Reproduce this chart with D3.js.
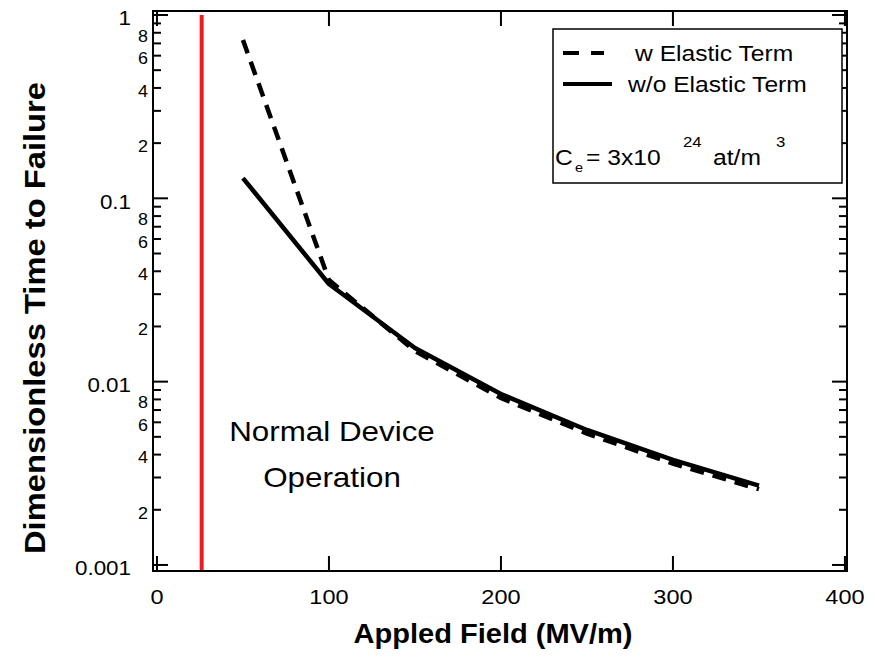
<!DOCTYPE html>
<html>
<head>
<meta charset="utf-8">
<script src="https://cdn.jsdelivr.net/npm/d3@7"></script>
<style>
  html, body { margin: 0; padding: 0; background: #fff; }
  svg text { font-family: "Liberation Sans", Arial, Helvetica, sans-serif; fill: #000; }
</style>
</head>
<body>
<svg id="chart" width="875" height="662"></svg>
<script>
// ---- Data ----
const fieldX = [50, 100, 150, 200, 250, 300, 350];
const withElastic = [0.730, 0.0358, 0.01469, 0.00814, 0.00521, 0.00357, 0.00259];
const withoutElastic = [0.129, 0.0341, 0.01525, 0.00856, 0.00545, 0.00374, 0.00271];
const normalOpField = 26;
const xTicks = [0, 100, 200, 300, 400];
const yMajorTicks = [1, 0.1, 0.01, 0.001];
const yMajorLabels = ["1", "0.1", "0.01", "0.001"];
const yMinorLabelled = [2, 4, 6, 8];

const svg = d3.select("#chart");
const L = 153, R = 847, T = 11, B = 571;
const SX = 1.12; // horizontal text stretch seen in reference

const x = d3.scaleLinear().domain([-2.3, 401.2]).range([L, R]);
const y = d3.scaleLog().domain([0.000927, 1.0515]).range([B, T]);

// red normal-operation line
svg.append("line")
  .attr("x1", x(normalOpField)).attr("x2", x(normalOpField))
  .attr("y1", y(1)).attr("y2", B)
  .attr("stroke", "#ed1c24").attr("stroke-width", 4);

// frame
svg.append("rect").attr("x", L).attr("y", T).attr("width", R - L).attr("height", B - T)
  .attr("fill", "none").attr("stroke", "#000").attr("stroke-width", 2);

const g = svg.append("g").attr("stroke", "#000").attr("stroke-width", 2);

// x ticks (bottom up, top down)
xTicks.forEach(v => {
  g.append("line").attr("x1", x(v)).attr("x2", x(v)).attr("y1", B).attr("y2", B - 15);
  g.append("line").attr("x1", x(v)).attr("x2", x(v)).attr("y1", T).attr("y2", T + 15);
});

// y ticks
const minorVals = [];
yMajorTicks.slice(1).forEach(d => { for (let k = 2; k <= 9; k++) minorVals.push(+(d * k).toPrecision(3)); });
yMajorTicks.forEach(v => {
  g.append("line").attr("x1", L).attr("x2", L + 15).attr("y1", y(v)).attr("y2", y(v));
  g.append("line").attr("x1", R).attr("x2", R - 15).attr("y1", y(v)).attr("y2", y(v));
});
minorVals.forEach(v => {
  g.append("line").attr("x1", L).attr("x2", L + 8).attr("y1", y(v)).attr("y2", y(v));
  g.append("line").attr("x1", R).attr("x2", R - 8).attr("y1", y(v)).attr("y2", y(v));
});

function stext(px, py, str, size, anchor, weight) {
  return svg.append("text")
    .attr("transform", `translate(${px},${py}) scale(${SX},1)`)
    .attr("text-anchor", anchor || "start")
    .attr("font-size", size)
    .attr("font-weight", weight || "normal")
    .text(str);
}

// y labels
yMajorTicks.forEach((v, i) => stext(131, y(v) + 10.5, yMajorLabels[i], 20, "end"));
yMajorTicks.slice(1).forEach(d => {
  yMinorLabelled.forEach(k => stext(148, y(d * k) + 8.8, String(k), 16, "end"));
});

// x labels
xTicks.forEach(v => stext(x(v), 604, String(v), 21, "middle"));

// curves
const line = d3.line().x(d => x(d[0])).y(d => y(d[1]));
svg.append("path").datum(fieldX.map((f, i) => [f, withoutElastic[i]]))
  .attr("d", line).attr("fill", "none").attr("stroke", "#000").attr("stroke-width", 4.5)
  .attr("stroke-linejoin", "round");
svg.append("path").datum(fieldX.map((f, i) => [f, withElastic[i]]))
  .attr("d", line).attr("fill", "none").attr("stroke", "#000").attr("stroke-width", 4.5)
  .attr("stroke-dasharray", "14,9");

// annotation
stext(332, 441, "Normal Device", 28, "middle");
stext(332, 487, "Operation", 28, "middle");

// legend
svg.append("rect").attr("x", 553).attr("y", 29).attr("width", 289).attr("height", 154)
  .attr("fill", "#fff").attr("stroke", "#000").attr("stroke-width", 1.5);
svg.append("line").attr("x1", 563).attr("x2", 604).attr("y1", 53).attr("y2", 53)
  .attr("stroke", "#000").attr("stroke-width", 4).attr("stroke-dasharray", "16,12");
svg.append("line").attr("x1", 563).attr("x2", 612).attr("y1", 84).attr("y2", 84)
  .attr("stroke", "#000").attr("stroke-width", 4);
stext(635, 61, "w Elastic Term", 22, "start");
stext(628, 92, "w/o Elastic Term", 22, "start");
stext(555, 165, "C", 22, "start");
stext(575, 172, "e", 13, "start");
stext(586, 165, "= 3x10", 22, "start");
stext(683, 147, "24", 15, "start");
stext(713, 165, "at/m", 22, "start");
stext(776, 147, "3", 15, "start");

// axis titles
svg.append("text").attr("x", 493).attr("y", 643).attr("text-anchor", "middle")
  .attr("font-size", 28).attr("font-weight", "bold")
  .attr("textLength", 279).attr("lengthAdjust", "spacingAndGlyphs")
  .text("Appled Field (MV/m)");
svg.append("text").attr("transform", "translate(45,318) rotate(-90)").attr("text-anchor", "middle")
  .attr("font-size", 29).attr("font-weight", "bold")
  .attr("textLength", 472).attr("lengthAdjust", "spacingAndGlyphs")
  .text("Dimensionless Time to Failure");
</script>
</body>
</html>
